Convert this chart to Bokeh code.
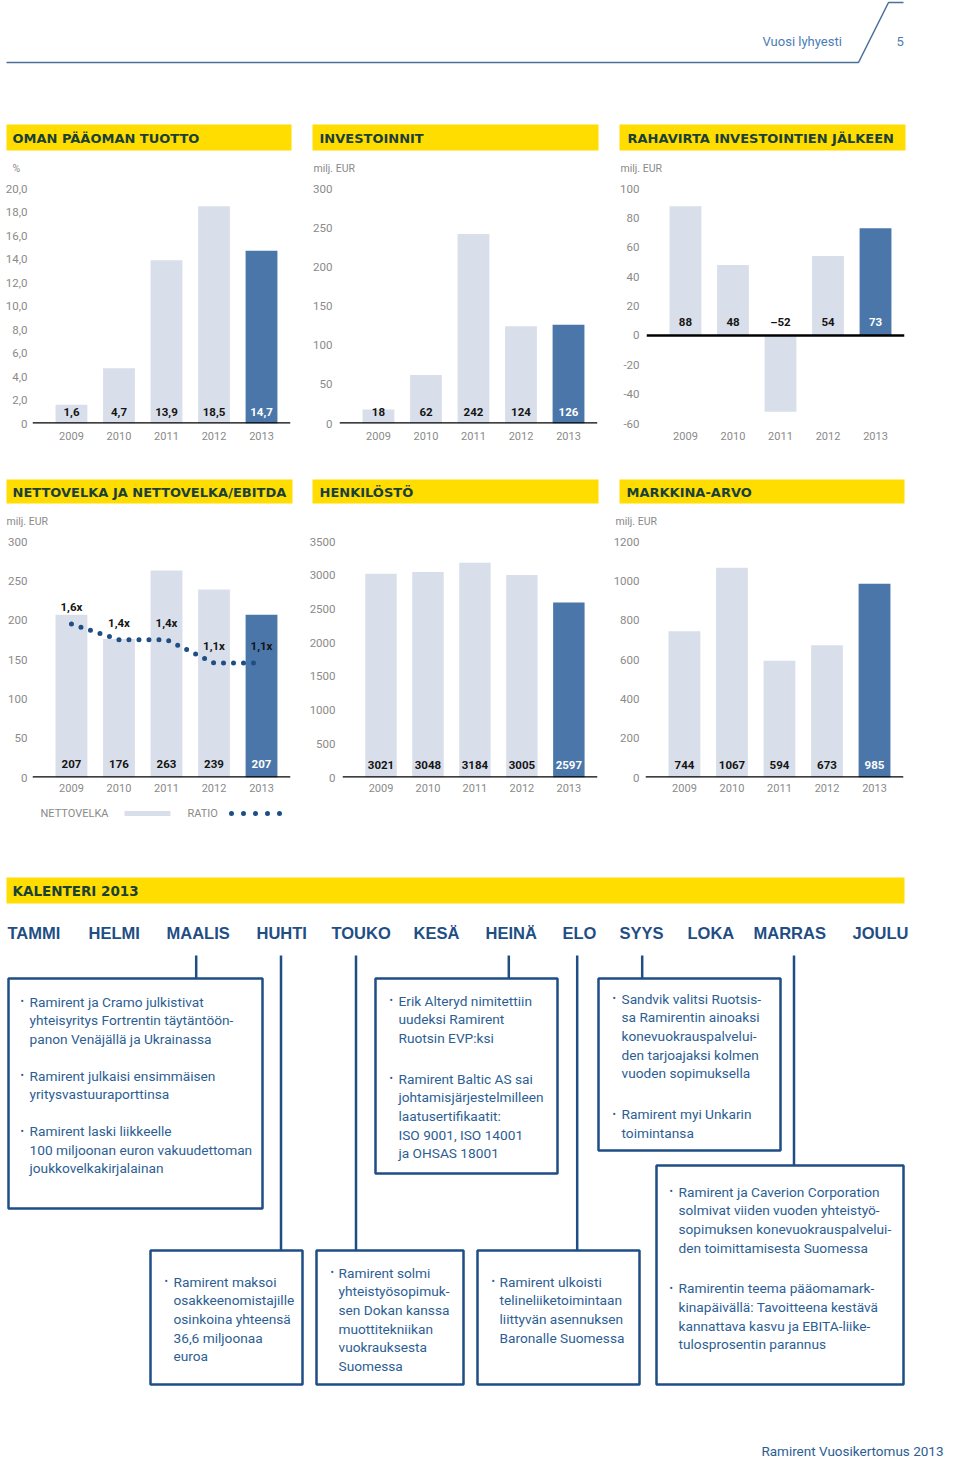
from bokeh.plotting import figure
from bokeh.layouts import column, row
from bokeh.models import Range1d, FixedTicker, Span, ColumnDataSource
from bokeh.core.properties import value
from bokeh.embed import file_html
from bokeh.resources import INLINE

# ---------------- data ----------------
years = ["2009", "2010", "2011", "2012", "2013"]
roe = [1.6, 4.7, 13.9, 18.5, 14.7]
investments = [18, 62, 242, 124, 126]
cash_flow = [88, 48, -52, 54, 73]
net_debt = [207, 176, 263, 239, 207]
net_debt_ratio = [1.6, 1.4, 1.4, 1.1, 1.1]
personnel = [3021, 3048, 3184, 3005, 2597]
market_cap = [744, 1067, 594, 673, 985]

roe_ticks = [0, 2, 4, 6, 8, 10, 12, 14, 16, 18, 20]
roe_tick_labels = ["0", "2,0", "4,0", "6,0", "8,0", "10,0", "12,0", "14,0", "16,0", "18,0", "20,0"]
inv_ticks = [0, 50, 100, 150, 200, 250, 300]
cf_ticks = [-60, -40, -20, 0, 20, 40, 60, 80, 100]
nd_ticks = [0, 50, 100, 150, 200, 250, 300]
pers_ticks = [0, 500, 1000, 1500, 2000, 2500, 3000, 3500]
mc_ticks = [0, 200, 400, 600, 800, 1000, 1200]

chart_titles_row1 = ["OMAN PÄÄOMAN TUOTTO", "INVESTOINNIT", "RAHAVIRTA INVESTOINTIEN JÄLKEEN"]
chart_titles_row2 = ["NETTOVELKA JA NETTOVELKA/EBITDA", "HENKILÖSTÖ", "MARKKINA-ARVO"]
units_row1 = ["%", "milj. EUR", "milj. EUR"]
units_row2 = ["milj. EUR", "milj. EUR"]
legend_labels = ["NETTOVELKA", "RATIO"]

months = ["TAMMI", "HELMI", "MAALIS", "HUHTI", "TOUKO", "KESÄ", "HEINÄ", "ELO",
          "SYYS", "LOKA", "MARRAS", "JOULU"]

events_maalis = [["Ramirent ja Cramo julkistivat", "yhteisyritys Fortrentin täytäntöön-", "panon Venäjällä ja Ukrainassa"],
                 ["Ramirent julkaisi ensimmäisen", "yritysvastuuraporttinsa"],
                 ["Ramirent laski liikkeelle", "100 miljoonan euron vakuudettoman", "joukkovelkakirjalainan"]]
events_heina = [["Erik Alteryd nimitettiin", "uudeksi Ramirent", "Ruotsin EVP:ksi"],
                ["Ramirent Baltic AS sai", "johtamisjärjestelmilleen", "laatusertifikaatit:", "ISO 9001, ISO 14001", "ja OHSAS 18001"]]
events_syys = [["Sandvik valitsi Ruotsis-", "sa Ramirentin ainoaksi", "konevuokrauspalvelui-", "den tarjoajaksi kolmen", "vuoden sopimuksella"],
               ["Ramirent myi Unkarin", "toimintansa"]]
events_huhti = [["Ramirent maksoi", "osakkeenomistajille", "osinkoina yhteensä", "36,6 miljoonaa", "euroa"]]
events_touko = [["Ramirent solmi", "yhteistyösopimuk-", "sen Dokan kanssa", "muottitekniikan", "vuokrauksesta", "Suomessa"]]
events_elo = [["Ramirent ulkoisti", "telineliiketoimintaan", "liittyvän asennuksen", "Baronalle Suomessa"]]
events_marras = [["Ramirent ja Caverion Corporation", "solmivat viiden vuoden yhteistyö-", "sopimuksen konevuokrauspalvelui-", "den toimittamisesta Suomessa"],
                 ["Ramirentin teema pääomamark-", "kinapäivällä: Tavoitteena kestävä", "kannattava kasvu ja EBITA-liike-", "tulosprosentin parannus"]]

# ---------------- styles ----------------
LIGHT = "#D9DFEA"
DARK = "#4A76AA"
NAVY = "#1F4E85"
TXT = "#2D5E93"
GREY = "#8A8A8A"
YELLOW = "#FFDD00"
TITLE_C = "#1A4038"
HEAD_C = "#4A7DB5"
FONT = "Roboto"
X_LO, X_HI = -0.82, 4.61


def fmt_dec(v):
    return f"{v:.1f}".replace(".", ",")


def fmt_int(v):
    return f"{v}" if v >= 0 else f"–{abs(v)}"


def make_chart(w, h, L, R, T, B, ylo, yhi, ticks, tick_labels, vals, labels,
               lab_off, ystand, xstand):
    p = figure(width=w, height=h, x_range=Range1d(X_LO, X_HI), y_range=Range1d(ylo, yhi),
               output_backend="svg", toolbar_location=None, tools="",
               min_border_left=L, min_border_right=R, min_border_top=T, min_border_bottom=B,
               outline_line_color=None, background_fill_color="white", border_fill_color="white")
    p.xgrid.visible = False
    p.ygrid.visible = False
    xs = list(range(len(years)))
    colors = [LIGHT] * (len(years) - 1) + [DARK]
    tcolors = ["#141414"] * (len(years) - 1) + ["white"]
    src = ColumnDataSource(dict(x=xs, top=vals, color=colors, label=labels, tcolor=tcolors))
    p.vbar(x="x", top="top", bottom=0, width=0.67, fill_color="color", line_color=None, source=src)
    p.add_layout(Span(location=0, dimension="width", line_color="black", line_width=2.5))
    p.text(x="x", y=0, text="label", text_color="tcolor", source=src, text_font=value(FONT),
           text_font_style="bold", text_font_size="11.5px", text_align="center",
           text_baseline="middle", y_offset=-lab_off)
    for ax in (p.xaxis, p.yaxis):
        ax.axis_line_color = None
        ax.major_tick_line_color = None
        ax.minor_tick_line_color = None
        ax.major_tick_out = 0
        ax.major_tick_in = 0
        ax.minor_tick_out = 0
        ax.minor_tick_in = 0
        ax.major_label_text_color = GREY
        ax.major_label_text_font = FONT
        ax.major_label_text_font_size = "11px"
    p.yaxis.major_label_text_font_size = "11.5px"
    p.yaxis.ticker = FixedTicker(ticks=ticks)
    p.yaxis.major_label_overrides = {t: l for t, l in zip(ticks, tick_labels)}
    p.yaxis.major_label_standoff = ystand
    p.xaxis.ticker = FixedTicker(ticks=xs)
    p.xaxis.major_label_overrides = {i: y for i, y in enumerate(years)}
    p.xaxis.major_label_standoff = xstand
    return p


def deco(h, ytop, ybot):
    p = figure(width=944, height=h, x_range=Range1d(0, 944), y_range=Range1d(ybot, ytop),
               output_backend="svg", toolbar_location=None, tools="",
               x_axis_type=None, y_axis_type=None, min_border=0,
               outline_line_color=None, background_fill_color="white", border_fill_color="white")
    p.xgrid.visible = False
    p.ygrid.visible = False
    return p


def txt(p, x, y, t, color, size, bold=False, font=FONT, align="left"):
    p.text(x=[x], y=[y], text=[t], text_color=color, text_font=value(font),
           text_font_size=size, text_font_style="bold" if bold else "normal",
           text_align=align, text_baseline="middle")


def bands(p, titles, lefts, rights, text_x, top, bottom):
    p.quad(left=lefts, right=rights, top=[top] * 3, bottom=[bottom] * 3,
           fill_color=YELLOW, line_color=None)
    p.text(x=text_x, y=[(top + bottom) / 2 + 0.5] * 3, text=titles, text_color=TITLE_C,
           text_font=value("DejaVu Sans"), text_font_style="bold", text_font_size="13px",
           text_align="left", text_baseline="middle")


# ---------------- top (header + row-1 titles) : page y 0..178 ----------------
top = deco(178, 0, 178)
top.line(x=[6, 858, 888, 903], y=[62, 62, 2, 2], line_color="#4A6F99", line_width=1.5)
txt(top, 762, 41, "Vuosi lyhyesti", HEAD_C, "13px")
txt(top, 896, 41, "5", HEAD_C, "13px")
bands(top, chart_titles_row1, [6, 312, 619], [291, 598, 905], [12, 319, 627], 124, 150)
for ux, u in zip([12, 313, 620], units_row1):
    txt(top, ux, 168, u, GREY, "10.5px")

# ---------------- row 1 charts : page y 178..455 ----------------
c1 = make_chart(306, 277, 32, 16, 10, 32, 0, 20, roe_ticks, roe_tick_labels,
                roe, [fmt_dec(v) for v in roe], 12, 5, 8)
c2 = make_chart(304, 277, 33, 13, 10, 32, 0, 300, inv_ticks, [str(t) for t in inv_ticks],
                investments, [fmt_int(v) for v in investments], 12, 7, 8)
c3 = make_chart(334, 277, 36, 40, 10, 32, -60, 100, cf_ticks, [str(t) for t in cf_ticks],
                cash_flow, [fmt_int(v) for v in cash_flow], 13, 7, 8)

# ---------------- row-2 titles : page y 455..530 ----------------
mid = deco(75, 455, 530)
bands(mid, chart_titles_row2, [6, 312, 619], [292, 598, 904], [12, 319, 626], 479, 503)
for ux, u in zip([6, 615], units_row2):
    txt(mid, ux, 521, u, GREY, "10.5px")

# ---------------- row 2 charts : page y 530..800 ----------------
c4 = make_chart(306, 270, 32, 16, 11, 23, 0, 300, nd_ticks, [str(t) for t in nd_ticks],
                net_debt, [fmt_int(v) for v in net_debt], 14, 5, 6)
c4.extra_y_ranges = {"ratio": Range1d(-0.366, 2.658)}
xs = list(range(len(years)))
c4.line(x=xs, y=net_debt_ratio, y_range_name="ratio", line_color=NAVY, line_width=5,
        line_dash="0 10", line_cap="round")
c4.text(x=xs, y=net_debt_ratio, y_range_name="ratio",
        text=[fmt_dec(r) + "x" for r in net_debt_ratio], text_color="#141414",
        text_font=value(FONT), text_font_style="bold", text_font_size="11.5px",
        text_align="center", text_baseline="middle", y_offset=-17)
c5 = make_chart(304, 270, 33, 13, 11, 23, 0, 3500, pers_ticks, [str(t) for t in pers_ticks],
                personnel, [fmt_int(v) for v in personnel], 13, 7, 6)
c6 = make_chart(334, 270, 35, 41, 11, 23, 0, 1200, mc_ticks, [str(t) for t in mc_ticks],
                market_cap, [fmt_int(v) for v in market_cap], 13, 6, 6)

# ---------------- bottom (legend + calendar) : page y 800..1459 ----------------
bot = deco(659, 800, 1459)
txt(bot, 40, 812.5, legend_labels[0], GREY, "11px")
bot.quad(left=[124], right=[170], top=[810.5], bottom=[815.5], fill_color=LIGHT, line_color=None)
txt(bot, 187, 812.5, legend_labels[1], GREY, "11px")
bot.line(x=[231, 279.5], y=[813, 813], line_color=NAVY, line_width=5, line_dash="0 12", line_cap="round")

bot.quad(left=[6], right=[904], top=[877], bottom=[903], fill_color=YELLOW, line_color=None)
txt(bot, 12, 890.5, "KALENTERI 2013", TITLE_C, "13.5px", bold=True, font="DejaVu Sans")

month_x = [7, 88, 166, 256, 331, 413, 485, 562, 619, 687, 753, 852]
bot.text(x=month_x, y=[932] * 12, text=months, text_color=NAVY,
         text_font=value("Liberation Sans"), text_font_style="bold", text_font_size="16.5px",
         text_align="left", text_baseline="middle")

# connectors: month -> box
conn_x = [195.7, 280.5, 355.5, 508.3, 576.7, 641.7, 793.5]
conn_y1 = [978, 1250, 1250, 978, 1250, 978, 1165]
bot.segment(x0=conn_x, y0=[955] * 7, x1=conn_x, y1=conn_y1, line_color=NAVY, line_width=2.5)

boxes = [
    ((8, 978, 262, 1208), 20, 29, 1001, 18, events_maalis),
    ((375, 978, 557, 1173), 389, 398, 1000, 22, events_heina),
    ((598, 978, 780, 1150), 612, 621, 998, 22, events_syys),
    ((150, 1250, 302, 1384), 164, 173, 1281, 20, events_huhti),
    ((316, 1250, 463, 1384), 330, 338, 1272, 20, events_touko),
    ((477, 1250, 639, 1384), 491, 499, 1281, 20, events_elo),
    ((656, 1165, 903, 1384), 669, 678, 1191, 22, events_marras),
]
LH = 18.7
for (l, t, r, b), bx, tx, y0, gap, groups in boxes:
    bot.quad(left=[l], right=[r], top=[t], bottom=[b], fill_color=None,
             line_color=NAVY, line_width=2.5)
    y = y0
    bxs, bys, lxs, lys, ltx = [], [], [], [], []
    for g in groups:
        bxs.append(bx)
        bys.append(y)
        for line in g:
            lxs.append(tx)
            lys.append(y)
            ltx.append(line)
            y += LH
        y += gap
    bot.text(x=bxs, y=bys, text=["•"] * len(bxs), text_color=TXT, text_font=value(FONT),
             text_font_size="10px", text_align="left", text_baseline="middle")
    bot.text(x=lxs, y=lys, text=ltx, text_color=TXT, text_font=value(FONT),
             text_font_size="13.7px", text_align="left", text_baseline="middle")

txt(bot, 943, 1450, "Ramirent Vuosikertomus 2013", TXT, "13.5px", align="right")

layout = column(top, row(c1, c2, c3), mid, row(c4, c5, c6), bot)
open("out.html", "w").write(file_html(layout, INLINE))
